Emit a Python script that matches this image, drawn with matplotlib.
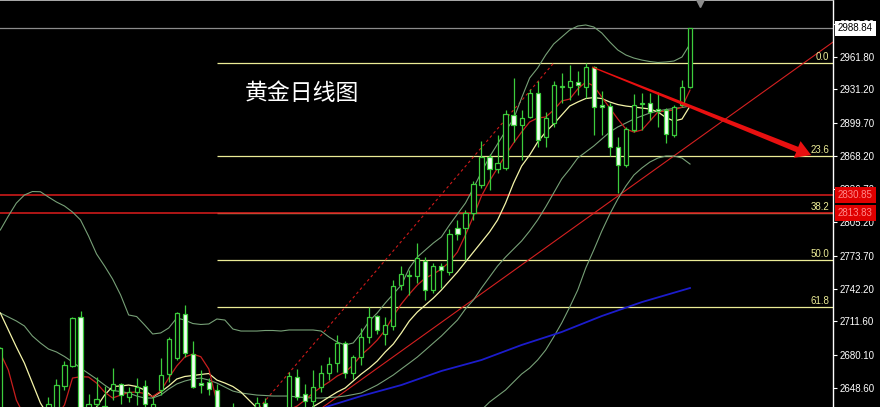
import numpy as np
import matplotlib
matplotlib.use("Agg")
import matplotlib.pyplot as plt
import matplotlib.transforms as mtransforms
from matplotlib.patches import Polygon

nan = np.nan

# daily bars, one entry per bar (nan = bar sits below the visible window)
opens = [2620, nan, nan, nan, nan, nan, 2625, 2627, 2650.8, 2669.4,
         2715.5, 2626, 2633.4, 2628, 2646.7, 2652.1, 2640.1, 2645.1, 2650.5, 2629,
         2646.7, 2661.8, 2676.7, 2718.3, 2680.7, 2653.6, 2654.0, 2646.7, nan, 2626,
         nan, nan, 2628, 2634.7, nan, nan, 2628, 2658.7, 2642.9, 2636.6,
         2649.3, 2663.0, 2672.0, 2691.5, 2662.5, 2678.2, 2697.1, 2716.7, 2699.7, 2707.2,
         2746.0, 2754.5, 2754.5, 2769.0, 2741.3, 2764.0, 2758.6, 2799.7, 2799.7, 2814.5,
         2840.7, 2867.4, 2855.5, 2856.5, 2906.9, 2897.4, 2905.3, 2928.0, 2886.4, 2899.6,
         2933.4, 2933.7, 2938.1, 2933.7, 2952.0, 2916.4, 2915.4, 2876.9, 2859.6, 2892.7,
         2917.3, 2918.0, 2912.6, 2911.6, 2888.0, 2916.4, 2933.1]
highs = [2687.4, nan, nan, nan, nan, nan, 2639.8, 2657.4, 2674.1, 2715.8,
         2721.9, 2642.9, 2658.7, 2650.5, 2667.2, 2653.0, 2649.8, 2657.8, 2656.2, 2640.4,
         2676.7, 2696.6, 2720.8, 2727.1, 2693.3, 2665.6, 2657.8, 2652.4, nan, 2634.7,
         nan, nan, 2640.1, 2638.8, nan, nan, 2664.0, 2666.3, 2652.4, 2665.6,
         2670.4, 2678.2, 2698.7, 2693.3, 2679.8, 2705.1, 2724.9, 2717.6, 2716.0, 2750.8,
         2764.0, 2760.2, 2786.0, 2772.2, 2766.6, 2766.6, 2798.8, 2807.5, 2817.0, 2844.7,
         2882.6, 2870.0, 2888.0, 2911.6, 2941.6, 2911.6, 2931.2, 2939.4, 2910.0, 2939.4,
         2946.9, 2954.2, 2948.8, 2955.8, 2953.3, 2929.9, 2918.0, 2885.8, 2895.3, 2926.8,
         2928.0, 2927.4, 2929.0, 2913.3, 2916.4, 2940.0, 2988.84]
lows = [2616, nan, nan, nan, nan, nan, 2622, 2624, 2646.7, 2668.2,
        2616, 2624, 2626, 2622, 2637.2, 2633.4, 2635.6, 2632.5, 2629, 2625,
        2641.9, 2654.6, 2675.1, 2678.2, 2648.3, 2643.6, 2641.9, 2618, nan, 2618,
        nan, nan, 2624, 2622, nan, nan, 2625, 2637.2, 2630.9, 2630.9,
        2645.1, 2656.2, 2664.0, 2657.8, 2656.8, 2670.4, 2690.9, 2699.7, 2689.3, 2703.5,
        2741.3, 2736.6, 2747.6, 2731.9, 2738.2, 2742.9, 2755.5, 2788.6, 2769.7, 2807.5,
        2837.5, 2835.9, 2851.7, 2854.9, 2881.6, 2864.3, 2903.8, 2876.9, 2876.9, 2895.3,
        2918.0, 2921.1, 2925.8, 2922.7, 2888.0, 2888.0, 2868.1, 2832.8, 2858.0, 2891.1,
        2892.7, 2902.2, 2895.8, 2880.7, 2886.4, 2915.4, 2932.2]
closes = [2686.2, nan, nan, nan, nan, nan, 2633.4, 2651.2, 2670.4, 2714.6,
          2620, 2633.9, 2637.9, 2632, 2652.1, 2641.9, 2644.5, 2649.8, 2633.4, 2633,
          2660.9, 2694.9, 2719.3, 2681.4, 2649.3, 2651.2, 2647.4, 2622, nan, 2622,
          nan, nan, 2634.4, 2626, nan, nan, 2660, 2639.8, 2636.6, 2649.3,
          2662.5, 2671.3, 2690.9, 2663.0, 2678.2, 2697.1, 2716.0, 2703.5, 2708.2, 2745.1,
          2756.5, 2755.5, 2771.3, 2741.3, 2764.0, 2760.2, 2794.3, 2794.3, 2814.5, 2841.6,
          2867.4, 2855.5, 2861.2, 2907.9, 2897.4, 2903.8, 2928.0, 2883.2, 2903.8, 2935.3,
          2934.4, 2939.1, 2935.3, 2952.0, 2914.2, 2914.2, 2876.9, 2859.6, 2893.4, 2916.4,
          2918.3, 2910.0, 2910.7, 2888.9, 2914.2, 2933.1, 2988.84]

# bollinger bands
boll_upper = [2798.1, 2811.3, 2823.6, 2831.2, 2834.5, 2834.3, 2829.3, 2824.6, 2820.8, 2815.1,
              2807.6, 2792.4, 2775.4, 2764.0, 2751.7, 2736.6, 2717.7, 2716.2, 2708.2, 2699.7,
              2700.7, 2705.4, 2714.8, 2712.9, 2709.6, 2708.7, 2709.2, 2713.9, 2712.9, 2704.4,
              2702.5, 2702.5, 2702.5, 2703.0, 2703.0, 2702.5, 2703.5, 2703.5, 2703.5, 2703.5,
              2702.5, 2696.8, 2692.1, 2689.3, 2691.2, 2700.6, 2712.0, 2719.6, 2729.0, 2737.5,
              2746.0, 2762.1, 2772.5, 2779.2, 2785.8, 2791.5, 2802.8, 2813.2, 2823.6, 2837.8,
              2853.0, 2867.2, 2879.5, 2891.8, 2903.1, 2923.0, 2941.9, 2951.4, 2963.7, 2974.1,
              2980.7, 2987.3, 2991.1, 2992.1, 2990.2, 2984.5, 2976.0, 2968.4, 2963.7, 2960.8,
              2958.9, 2957.5, 2956.6, 2957.1, 2958.0, 2961.8, 2974.1]
boll_mid = [2719.6, 2715.8, 2712.0, 2707.3, 2697.8, 2691.2, 2685.5, 2682.7, 2678.4, 2673.2,
            2667.5, 2662.3, 2657.1, 2651.4, 2646.2, 2645.3, 2643.9, 2641.0, 2639.1, 2639.1,
            2641.9, 2647.6, 2652.4, 2655.2, 2657.1, 2658.0, 2656.1, 2653.3, 2649.5, 2645.7,
            2643.9, 2642.9, 2641.9, 2641.5, 2641.0, 2641.0, 2641.0, 2640.1, 2639.6, 2639.1,
            2639.1, 2639.6, 2640.1, 2641.0, 2642.4, 2643.9, 2647.6, 2651.4, 2656.1, 2660.9,
            2666.6, 2672.2, 2677.9, 2684.5, 2691.2, 2697.8, 2705.4, 2712.9, 2723.4, 2731.9,
            2743.2, 2753.6, 2764.0, 2772.5, 2780.1, 2787.7, 2797.1, 2807.6, 2819.9, 2833.1,
            2846.4, 2855.8, 2866.2, 2871.9, 2877.6, 2884.2, 2890.8, 2895.6, 2899.3, 2903.1,
            2906.0, 2908.8, 2910.7, 2912.1, 2913.0, 2914.0, 2915.4]
lower_bars = list(range(59, 87))
boll_lower = [2621.2, 2627.8, 2635.3, 2641.0, 2646.7, 2654.3, 2661.8, 2667.5, 2675.1, 2684.5,
              2696.9, 2710.1, 2725.2, 2741.3, 2762.1, 2779.2, 2797.1, 2813.2, 2827.4, 2839.7,
              2850.1, 2856.8, 2862.4, 2866.2, 2868.1, 2868.1, 2866.2, 2860.5]

# moving averages
ma_red = [2681.7, 2665.6, 2637.2, 2622, 2615, 2612, 2615, 2622, 2632.5, 2658.0,
          2659.3, 2659.0, 2653.3, 2644.8, 2639.1, 2641.9, 2644.3, 2644.8, 2643.4, 2640.5,
          2645.7, 2658.0, 2669.4, 2677.9, 2680.7, 2678.2, 2666.5, 2635.3, 2620, 2612,
          2608, 2608, 2612, 2616, 2620, 2624, 2628, 2631.5, 2637.2, 2643.9,
          2649.5, 2654.3, 2659.9, 2663.7, 2670.4, 2679.8, 2686.4, 2694.0, 2703.5, 2716.7,
          2728.1, 2737.5, 2746.0, 2752.7, 2756.4, 2761.2, 2767.8, 2777.3, 2793.4, 2811.3,
          2830.3, 2844.4, 2856.8, 2869.0, 2880.4, 2890.8, 2900.3, 2904.1, 2905.0, 2911.6,
          2920.2, 2922.0, 2931.5, 2938.1, 2934.4, 2923.9, 2913.5, 2903.1, 2893.7, 2890.8,
          2892.7, 2901.2, 2909.8, 2910.7, 2911.6, 2914.5, 2930.5]
ma_yellow = [2719.6, 2703.5, 2687.4, 2672.2, 2653.3, 2634.4, 2622, 2615, 2612, 2612,
             2615, 2622, 2630.6, 2641.9, 2650.0, 2650.5, 2651.4, 2650.0, 2646.7, 2640.1,
             2644.8, 2650.5, 2657.1, 2659.5, 2660.4, 2661.4, 2662.3, 2656.1, 2653.3, 2650.0,
             2644.8, 2637.2, 2629.7, 2622, 2616, 2612, 2612, 2615, 2622, 2630.9,
             2635.3, 2640.1, 2644.8, 2648.6, 2655.2, 2661.8, 2667.5, 2674.1, 2682.7, 2690.2,
             2700.6, 2712.0, 2720.5, 2727.1, 2733.7, 2741.3, 2749.8, 2758.3, 2767.8, 2777.3,
             2786.7, 2796.2, 2807.5, 2823.6, 2842.5, 2858.6, 2869.0, 2881.3, 2890.8, 2898.4,
             2906.9, 2915.4, 2919.2, 2922.5, 2923.4, 2922.5, 2919.2, 2916.8, 2915.4, 2914.5,
             2913.5, 2912.6, 2909.8, 2904.5, 2901.2, 2903.1, 2915.4]
blue_bars = [38, 41, 45, 50, 55, 60, 65, 70, 75, 80, 86]
ma_blue = [2623.0, 2631.6, 2641.0, 2651.4, 2664.7, 2675.1, 2689.3, 2701.6, 2716.7, 2729.9, 2743.2]

# fibonacci retracement (anchors: low bar 27 / high bar 69)
fib_anchor_bars = [27, 69]
fib_anchor_prices = [2583.0, 2956.1]
fib_labels = ["0.0", "23.6", "38.2", "50.0", "61.8"]
fib_prices = [2956.1, 2868.0, 2813.8, 2769.6, 2725.5]

red_levels = [2830.85, 2813.83]
last_price = 2988.84
y_ticks = [2993.30, 2961.80, 2931.20, 2899.70, 2868.20, 2836.70,
           2805.20, 2773.70, 2742.20, 2711.60, 2680.10, 2648.60]

trend_pts = [(40.3, 2630.9), (103.9, 2976.3)]
arrow_start = (73.8, 2952.3)
arrow_tip = (101.1, 2869.0)

title = "黄金日线图"

GREEN = "#3ccc3c"
BAND = "#77a077"
FIB = "#ecec96"
RED = "#cc1a1a"

plt.rcParams["font.family"] = ["Liberation Sans", "DejaVu Sans"]

fig = plt.figure(figsize=(8.8, 4.07), dpi=100, facecolor="black")
ax = fig.add_axes([0, 0, 833 / 880, 1])
ax.set_facecolor("black")
ax.set_xlim(-0.04, 103.83)
ax.set_ylim(2630.62, 3015.73)

# horizontal levels
ax.axhline(last_price, color="#8c8c8c", lw=0.9, zorder=1)
for lab, p in zip(fib_labels, fib_prices):
    ax.hlines(p, fib_anchor_bars[0], 103.83, color=FIB, lw=0.9, zorder=1)
    ax.text(103.35, p + 1.0, lab, color=FIB, fontsize=7, ha="right", va="bottom", zorder=6)
for p in red_levels:
    ax.axhline(p, color=RED, lw=1.2, zorder=2)
ax.plot(fib_anchor_bars, fib_anchor_prices, color=RED, lw=0.8,
        dashes=(2.5, 2.5), zorder=2)

# trend line
ax.axline(trend_pts[0], trend_pts[1], color="#d42020", lw=0.8, zorder=2)

# indicators
x = np.arange(len(opens))
ax.plot(x, boll_upper, color=BAND, lw=0.8, zorder=2)
ax.plot(x, boll_mid, color=BAND, lw=0.8, zorder=2)
ax.plot(lower_bars, boll_lower, color=BAND, lw=0.8, zorder=2)
ax.plot(blue_bars, ma_blue, color="#1c1ccc", lw=1.3, zorder=2)
ax.plot(x, ma_yellow, color="#f4f4a8", lw=0.9, zorder=3)
ax.plot(x, ma_red, color="#c81e1e", lw=0.9, zorder=3)

# candles
o = np.array(opens)
h = np.array(highs)
l = np.array(lows)
c = np.array(closes)
ok = ~np.isnan(o)
ax.vlines(x[ok], l[ok], h[ok], color=GREEN, lw=0.9, zorder=4)
bottom = np.minimum(o, c)
height = np.maximum(np.abs(c - o), 0.6)
face = ["black" if cc >= oo else "#f2fff2" for oo, cc in zip(o, c)]
face = [f for f, k in zip(face, ok) if k]
ax.bar(x[ok], height[ok], bottom=bottom[ok], width=0.52, color=face,
       edgecolor=GREEN, linewidth=0.9, zorder=5)

# big red arrow, tapered shaft, built in pixel space then mapped back to data
p0 = ax.transData.transform(arrow_start)
p1 = ax.transData.transform(arrow_tip)
d = (p1 - p0) / np.hypot(*(p1 - p0))
n = np.array([-d[1], d[0]])
neck = p1 - d * 15
pts = [p0 + n * 0.6, neck + n * 2.8, neck + n * 9, p1,
       neck - n * 9, neck - n * 2.8, p0 - n * 0.6]
pts = ax.transData.inverted().transform(np.array(pts))
ax.add_patch(Polygon(pts, closed=True, facecolor="#e81010", edgecolor="none", zorder=7))

# price axis on the right
ax.yaxis.tick_right()
ax.set_yticks(y_ticks)
ax.set_yticklabels([f"{v:.2f}" for v in y_ticks])
ax.tick_params(axis="y", colors="white", length=3, width=0.8, pad=2, labelsize=7)
ax.set_xticks([])
for s in ["left", "bottom"]:
    ax.spines[s].set_visible(False)
ax.spines["right"].set_color("white")
ax.spines["right"].set_linewidth(1)
ax.spines["top"].set_color("#c8c8c8")
ax.spines["top"].set_linewidth(1.2)

# current price and level tags cover the tick labels under them, as in the terminal
blend = mtransforms.blended_transform_factory(ax.transAxes, ax.transData)
ax.text(838 / 833, last_price, f"{last_price:.2f}", transform=blend, fontsize=7,
        color="black", ha="left", va="center", zorder=10, clip_on=False,
        bbox=dict(boxstyle="square,pad=0.3", fc="white", ec="none"))
for p in red_levels:
    ax.text(838 / 833, p, f"{p:.2f}", transform=blend, fontsize=7,
            color="#ff8a8a", ha="left", va="center", zorder=10, clip_on=False,
            bbox=dict(boxstyle="square,pad=0.3", fc="#e00000", ec="none"))

# chart shift marker
ax.plot([700 / 833], [0.993], marker="v", markersize=6, color="#8c8c8c",
        transform=ax.transAxes, clip_on=False, zorder=10)

fig.text(245 / 880, 1 - 93 / 407, title, color="white", fontsize=16.5,
         family=["Noto Sans CJK SC", "DejaVu Sans"], ha="left", va="center")

fig.savefig("out.png", dpi=100, facecolor="black")
